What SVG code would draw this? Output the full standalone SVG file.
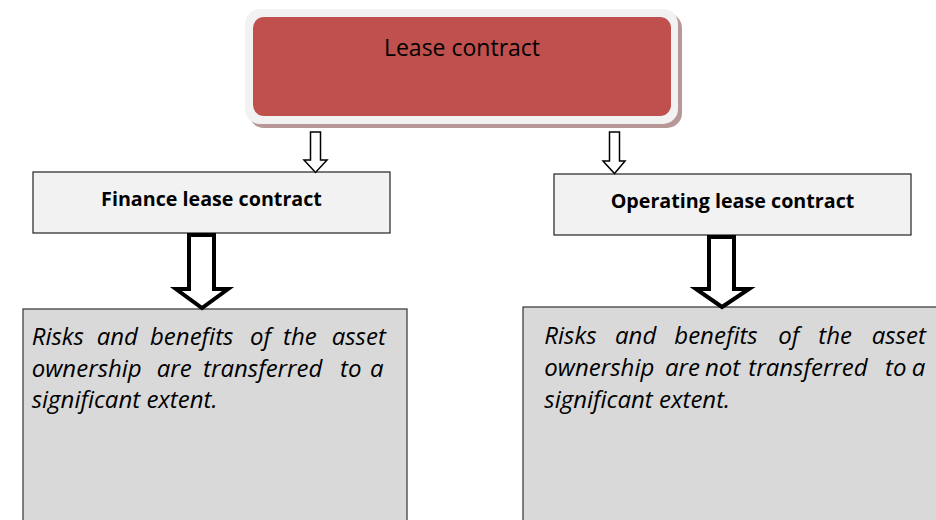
<svg xmlns="http://www.w3.org/2000/svg" width="936" height="520" viewBox="0 0 936 520">
<style>
.hdr{font-family:"Open Sans","Liberation Sans",sans-serif;font-weight:bold;font-size:19.7px;fill:#000;text-anchor:middle}
.mid{fill:#f2f2f2;stroke:#222;stroke-width:1.2}
.low{fill:#d9d9d9;stroke:#333;stroke-width:1.2}
.body{font-family:"Open Sans","Liberation Sans",sans-serif;font-style:italic;font-size:24px;fill:#000}
.thin{fill:#fff;stroke:#000;stroke-width:1.5;stroke-linejoin:miter}
.thick{fill:#fff;stroke:#000;stroke-width:4;stroke-linejoin:miter}
</style>
<rect width="936" height="520" fill="#fff"/>
<g id="lease-contract">
<rect x="249" y="13" width="433" height="115" rx="15" fill="#b89797"/>
<rect x="245" y="9" width="433" height="115" rx="15" fill="#f2f2f2"/>
<rect x="253" y="17" width="418" height="99" rx="11" fill="#c0504d"/>
<text x="462" y="56" font-family="'Open Sans','Liberation Sans',sans-serif" font-size="23" text-anchor="middle" fill="#000">Lease contract</text>
</g>
<g id="finance-lease">
<rect class="mid" x="33" y="172" width="357" height="61"/>
<text class="hdr" x="211.5" y="206">Finance lease contract</text>
</g>
<g id="operating-lease">
<rect class="mid" x="554" y="174" width="357" height="61"/>
<text class="hdr" x="732.5" y="208">Operating lease contract</text>
</g>
<g id="finance-desc">
<rect class="low" x="23" y="309" width="384" height="220"/>
<text class="body">
<tspan x="31.7" y="345">Risks</tspan><tspan x="96.7" y="345">and</tspan><tspan x="150" y="345">benefits</tspan><tspan x="250" y="345">of</tspan><tspan x="283" y="345">the</tspan><tspan x="331.7" y="345">asset</tspan>
<tspan x="31.7" y="377">ownership</tspan><tspan x="156.7" y="377">are</tspan><tspan x="203" y="377">transferred</tspan><tspan x="340" y="377">to</tspan><tspan x="370" y="377">a</tspan>
<tspan x="31.7" y="408">significant extent.</tspan>
</text>
</g>
<g id="operating-desc">
<rect class="low" x="523" y="307" width="430" height="220"/>
<text class="body">
<tspan x="544.3" y="344">Risks</tspan><tspan x="615" y="344">and</tspan><tspan x="674.3" y="344">benefits</tspan><tspan x="778.3" y="344">of</tspan><tspan x="818.3" y="344">the</tspan><tspan x="871.7" y="344">asset</tspan>
<tspan x="544.3" y="376">ownership</tspan><tspan x="665" y="376">are</tspan><tspan x="705" y="376">not</tspan><tspan x="748.3" y="376">transferred</tspan><tspan x="885" y="376">to</tspan><tspan x="911.7" y="376">a</tspan>
<tspan x="544.3" y="408">significant extent.</tspan>
</text>
</g>
<g id="connectors">
<path class="thin" d="M310.5,132 L320.5,132 L320.5,160 L327,160 L315.5,172.5 L304,160 L310.5,160 Z"/>
<path class="thin" d="M609.5,132 L619.5,132 L619.5,161 L625,161 L614.5,173.5 L603,161 L609.5,161 Z"/>
<path class="thick" d="M189,235 L214,235 L214,289 L228,289 L202,308 L176,289 L189,289 Z"/>
<path class="thick" d="M709,237 L734,237 L734,289 L749,289 L722,307 L696,289 L709,289 Z"/>
</g>
</svg>
